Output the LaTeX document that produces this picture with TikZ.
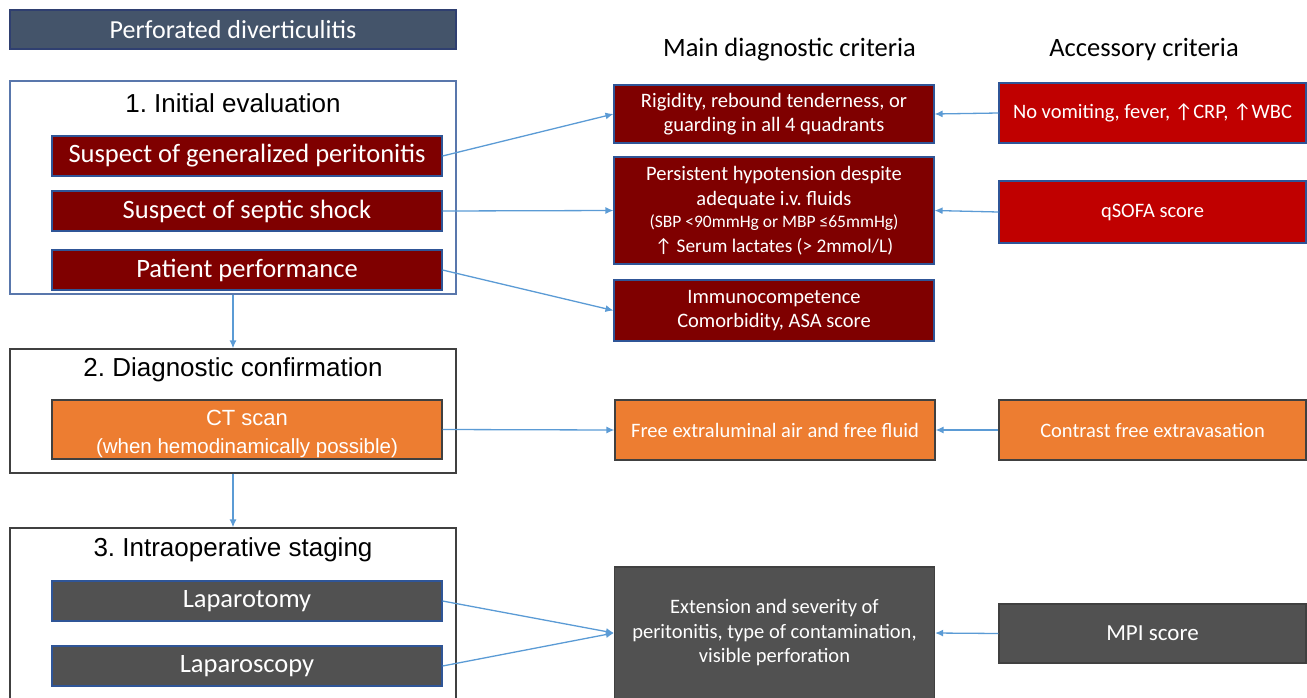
\documentclass[tikz,border=0pt]{standalone}
\usepackage{fontspec}
\setmainfont{Carlito}
\newfontfamily\arialfont{Liberation Sans}
\usetikzlibrary{arrows.meta}
\frenchspacing

\definecolor{slate}{HTML}{44546A}
\definecolor{navy}{HTML}{2F3F70}
\definecolor{darkred}{HTML}{7F0000}
\definecolor{brightred}{HTML}{C00000}
\definecolor{orng}{HTML}{ED7D31}
\definecolor{dgray}{HTML}{515151}
\definecolor{edgeblue}{HTML}{2F5597}
\definecolor{frame}{HTML}{404040}
\definecolor{arrowblue}{HTML}{5B9BD5}

\begin{document}
\begin{tikzpicture}[x=1pt,y=-1pt,>={Latex[length=8pt,width=7pt]},inner sep=0pt,
  stage/.style={draw=frame,line width=1.3pt,fill=white,minimum width=446pt},
  item/.style={draw=edgeblue,line width=1.1pt,minimum width=390pt,minimum height=40pt,
    text=white,font=\fontsize{26.5}{30}\selectfont},
  crit/.style={draw=edgeblue,line width=1.1pt,minimum width=320pt,text=white,align=center,
    font=\fontsize{20.5}{24.5}\selectfont},
  extra/.style={draw=edgeblue,line width=1.1pt,minimum width=307pt,text=white,align=center,
    font=\fontsize{20.5}{24}\selectfont},
  head/.style={font=\arialfont\fontsize{26}{30}\selectfont},
  link/.style={->,draw=arrowblue,line width=1.3pt}]
\clip (0,0) rectangle (1307,697);
\useasboundingbox (0,0) rectangle (1307,697);

% left column
\node[draw=navy,line width=1.2pt,fill=slate,minimum width=446pt,minimum height=39pt,
  text=white,font=\fontsize{26}{30}\selectfont] (title) at (233,29.5) {Perforated diverticulitis};

\node[stage,draw=edgeblue!80,minimum height=213pt] (stage1) at (233,187.5) {};
\node[head] (t1) at (233,103) {1. Initial evaluation};
\node[item,fill=darkred] (peri) at (247,156) {Suspect of generalized peritonitis};
\node[item,fill=darkred] (shock) at (247,211) {Suspect of septic shock};
\node[item,fill=darkred] (perf) at (247,270) {Patient performance};

\node[stage,minimum height=124pt] (stage2) at (233,411) {};
\node[head] (t2) at (233,370) {2. Diagnostic confirmation};
\node[item,fill=orng,draw=frame,minimum height=59pt,align=center,
  font=\arialfont\fontsize{22}{28}\selectfont] (ct) at (247,429.5)
  {\rule{0pt}{24pt}CT scan\\{\fontsize{20.5}{28}\selectfont(when hemodinamically possible)}};

\node[stage,minimum height=200pt] (stage3) at (233,628) {};
\node[head] (t3) at (233,550) {3. Intraoperative staging};
\node[item,fill=dgray] (lapt) at (247,601) {Laparotomy};
\node[item,fill=dgray] (lapc) at (247,666) {Laparoscopy};

% headers
\node[font=\fontsize{26.5}{30}\selectfont] (hmain) at (789.5,50) {Main diagnostic criteria};
\node[font=\fontsize{26.5}{30}\selectfont] (hacc) at (1144,50) {Accessory criteria};

% main criteria
\node[crit,fill=darkred,minimum height=58pt] (rig) at (774,114)
  {Rigidity, rebound tenderness, or\\guarding in all 4 quadrants};
\node[crit,fill=darkred,minimum height=107pt] (hypo) at (774,210.5)
  {Persistent hypotension despite\\adequate i.v. fluids\\[-2pt]
   {\fontsize{17.5}{22.5}\selectfont(SBP <90mmHg or MBP ≤65mmHg)}\\
   {\fontsize{19.3}{22.5}\selectfont↑ Serum lactates (> 2mmol/L)}};
\node[crit,fill=darkred,minimum height=61pt] (immu) at (774,310.5)
  {Immunocompetence\\Comorbidity, ASA score};
\node[crit,fill=orng,draw=frame,minimum height=60pt] (air) at (775,430)
  {Free extraluminal air and free fluid};
\node[crit,fill=dgray,draw=frame,minimum height=132pt] (ext) at (774.5,633)
  {Extension and severity of\\peritonitis, type of contamination,\\visible perforation};

% accessory criteria
\node[extra,fill=brightred,minimum height=60pt] (vom) at (1152.5,113) {No vomiting, fever, ↑CRP, ↑WBC};
\node[extra,fill=brightred,minimum height=62pt] (qsofa) at (1152.5,212) {qSOFA score};
\node[extra,fill=orng,draw=frame,minimum height=60pt] (contr) at (1152.5,430) {Contrast free extravasation};
\node[extra,fill=dgray,draw=frame,minimum height=59pt,font=\fontsize{23}{26}\selectfont] (mpi) at (1152.5,633.5) {MPI score};

% connectors
\draw[link] (stage1) -- (stage2);
\draw[link] (stage2) -- (stage3);
\draw[link] (peri.east) -- (rig.west);
\draw[link] (shock.east) -- (hypo.west);
\draw[link] (perf.east) -- (immu.west);
\draw[link] (ct.east) -- (air.west);
\draw[link] (lapt.east) -- (ext.west);
\draw[link] (lapc.east) -- (ext.west);
\draw[link] (vom.west) -- (rig.east);
\draw[link] (qsofa.west) -- (hypo.east);
\draw[link] (contr.west) -- (air.east);
\draw[link] (mpi.west) -- (ext.east);
\end{tikzpicture}
\end{document}
